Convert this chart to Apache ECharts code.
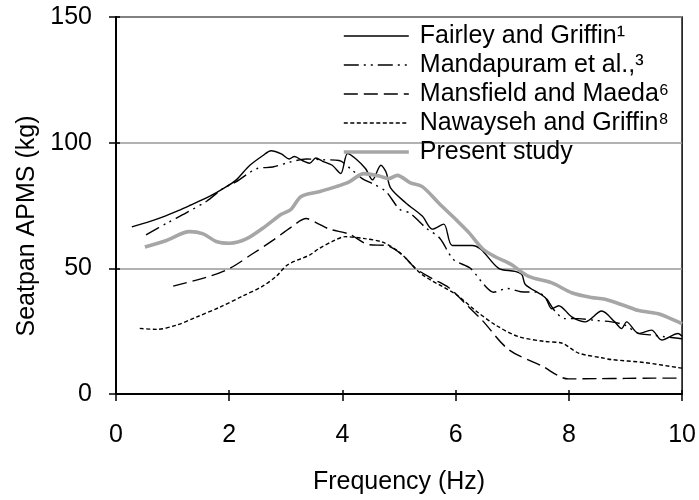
<!DOCTYPE html>
<html>
<head>
<meta charset="utf-8">
<script src="https://cdn.jsdelivr.net/npm/echarts@6/dist/echarts.min.js"></script>
<style>
  html, body { margin: 0; padding: 0; background: #fff; }
  #chart { width: 699px; height: 500px; }
</style>
</head>
<body>
<div id="chart"></div>
<script>
// Seatpan apparent mass (APMS) versus frequency, five studies
const seriesNames = [
  'Fairley and Griffin\u00B9',
  'Mandapuram et al.,\u00B3',
  'Mansfield and Maeda\u2076',
  'Nawayseh and Griffin\u2078',
  'Present study'
];

const fairleyFreq = [0.28,0.55,0.83,1.1,1.3,1.65,1.9,2.12,2.36,2.59,2.74,2.92,3.06,3.15,3.3,3.42,3.53,3.65,3.82,3.97,4.09,4.24,4.41,4.53,4.68,4.77,4.85,5.12,5.41,5.59,5.79,5.94,6.29,6.45,6.76,7.05,7.17,7.23,7.58,7.7,7.82,8.05,8.29,8.58,8.81,8.93,9.02,9.23,9.46,9.64,9.93,10];
const fairleyApms = [66.5,68.3,70.5,73,75,78.6,81.8,85.1,90.9,94.8,96.8,95.5,93.5,94.5,92.8,91.8,93.9,92.6,91,87.7,95.7,93.5,89.6,85.2,91,88.3,82,76,70.8,65.6,67.6,59.1,59.1,57.5,50,48.8,47.5,43.6,38.4,33.9,35.1,30.7,28.7,33,28.7,26,28.7,24.1,25.4,21.5,24.1,23];

const mandapuramFreq = [0.53,0.9,1.24,1.6,1.89,2.12,2.48,2.77,3.06,3.36,3.65,3.94,4.15,4.35,4.55,4.77,5.01,5.19,5.48,5.72,5.96,6.26,6.5,6.67,6.91,7.15,7.44,7.6,7.76,7.93,8.17,8.46,8.75,8.99,9.23,9.46,9.69,9.93,10];
const mandapuramApms = [63.3,68,72.1,76.7,81.8,84.4,89.6,90.3,92.2,93.5,93.2,92.9,89.5,85.7,83.5,80.5,73.5,72,66,62,53.5,50,43.5,40.5,42,40.7,40.5,38,32.8,30,30,29.3,28.7,27.4,24.1,23.5,22.8,22.2,22];

const mansfieldFreq = [1.01,1.65,2.01,2.42,2.77,3.09,3.36,3.55,3.77,4.12,4.47,4.77,5.06,5.29,5.58,5.88,6.17,6.47,6.94,7.52,7.99,8.5,9,9.5,10];
const mansfieldApms = [42.9,46.8,50,55.9,61.1,66.3,69.8,68,65.6,63.6,59.4,59.1,55.3,50,46,42.3,36,29.3,17.6,11.2,6,6.1,6.2,6.3,6.3];

const nawaysehFreq = [0.42,0.72,1.07,1.42,1.83,2.24,2.59,2.83,3.03,3.42,3.59,3.85,4.05,4.4,4.71,5,5.41,6,6.35,6.7,7.11,7.58,7.88,8.17,8.58,8.75,9.34,9.93,10];
const nawaysehApms = [26.1,25.7,27.4,30.6,34.5,39,42.9,46.8,51.4,55.3,57.9,61,62.6,61.8,60.4,56.5,47.5,39.7,33.2,27.5,22.8,20.9,20.2,16.3,14.4,13.7,12.5,10.5,10.3];

const presentFreq = [0.51,0.89,1.3,1.54,1.77,2.01,2.3,2.65,2.92,3.09,3.27,3.59,3.89,4.12,4.38,4.65,4.82,4.97,5.2,5.41,5.7,6,6.23,6.47,6.7,6.99,7.29,7.7,8.05,8.4,8.64,8.99,9.23,9.58,9.93,10];
const presentApms = [58.5,61.1,64.6,63.7,60.7,60,61.7,66.9,71.5,73.4,78.6,80.5,82.5,84.4,87.7,86.7,85.7,87,84,82.5,76,69.5,64.3,57.9,54.6,51.4,46.8,44.2,40.3,38.4,37.7,35.1,33.2,31.9,28.7,28];

const xTicks = [0, 2, 4, 6, 8, 10];
const yTicks = [0, 50, 100, 150];
const yTitle = 'Seatpan APMS (kg)';

function pairs(xs, ys) { return xs.map((x, i) => [x, ys[i]]); }

const FONT = 'Liberation Sans, Arial, sans-serif';

const chart = echarts.init(document.getElementById('chart'), null, { renderer: 'canvas' });

const lineSeries = (name, data, style, smooth) => ({
  name, type: 'line', data, symbol: 'none', showSymbol: false,
  smooth: smooth, lineStyle: style, itemStyle: { color: style.color },
  silent: true, animation: false,
  xAxisIndex: 0, yAxisIndex: 0, z: 3
});

chart.setOption({
  animation: false,
  backgroundColor: '#ffffff',
  grid: {
    left: 116, right: 14, top: 17, bottom: 98,
    show: true, borderColor: '#000', borderWidth: 1.5, backgroundColor: 'transparent'
  },
  legend: {
    orient: 'vertical', left: 342, top: 23, padding: 0,
    itemWidth: 65, itemHeight: 12, itemGap: 3,
    itemStyle: { opacity: 0 },
    lineStyle: { width: 'inherit' },
    textStyle: { fontFamily: FONT, fontSize: 25, color: '#000', lineHeight: 26, padding: [0, 0, 0, 6] },
    data: seriesNames
  },
  graphic: [{
    type: 'text', x: 27, y: 226, rotation: Math.PI / 2,
    style: { text: yTitle, font: '25px ' + FONT, fill: '#000', align: 'center', verticalAlign: 'middle' }
  }],
  xAxis: [{
    type: 'value', min: xTicks[0], max: xTicks[xTicks.length - 1], interval: 2,
    axisLine: { show: true, lineStyle: { color: '#000', width: 2 } },
    axisTick: { show: true, inside: false, length: 7, lineStyle: { color: '#000', width: 1.5 } },
    axisLabel: { fontFamily: FONT, fontSize: 25, color: '#000', margin: 29 },
    splitLine: { show: false },
    name: 'Frequency (Hz)', nameLocation: 'middle', nameGap: 76,
    nameTextStyle: { fontFamily: FONT, fontSize: 25, color: '#000' }
  }, {
    type: 'value', position: 'bottom', min: xTicks[0], max: xTicks[xTicks.length - 1], interval: 2,
    axisLine: { show: false },
    axisTick: { show: true, inside: true, length: 4, lineStyle: { color: '#000', width: 1.5 } },
    axisLabel: { show: false }, splitLine: { show: false }
  }],
  yAxis: [{
    type: 'value', min: yTicks[0], max: yTicks[yTicks.length - 1], interval: 50,
    axisLine: { show: true, lineStyle: { color: '#000', width: 2 } },
    axisTick: { show: true, inside: false, length: 7, lineStyle: { color: '#000', width: 1.5 } },
    axisLabel: { fontFamily: FONT, fontSize: 25, color: '#000', margin: 24 },
    splitLine: { show: true, lineStyle: { color: '#999', width: 1.5 } }
  }, {
    type: 'value', position: 'left', min: yTicks[0], max: yTicks[yTicks.length - 1], interval: 50,
    axisLine: { show: false },
    axisTick: { show: true, inside: true, length: 4, lineStyle: { color: '#000', width: 1.5 } },
    axisLabel: { show: false }, splitLine: { show: false }
  }],
  series: [
    lineSeries(seriesNames[0], pairs(fairleyFreq, fairleyApms), { color: '#000', width: 1.4, type: 'solid' }, 0.3),
    lineSeries(seriesNames[1], pairs(mandapuramFreq, mandapuramApms), { color: '#000', width: 1.4, type: [15, 5, 2, 5, 2, 5] }, 0.3),
    lineSeries(seriesNames[2], pairs(mansfieldFreq, mansfieldApms), { color: '#000', width: 1.4, type: [14, 6] }, 0.3),
    lineSeries(seriesNames[3], pairs(nawaysehFreq, nawaysehApms), { color: '#000', width: 1.4, type: [4, 2.5] }, 0.3),
    lineSeries(seriesNames[4], pairs(presentFreq, presentApms), { color: '#a6a6a6', width: 3.6, type: 'solid' }, 0.3)
  ]
});
</script>
</body>
</html>
